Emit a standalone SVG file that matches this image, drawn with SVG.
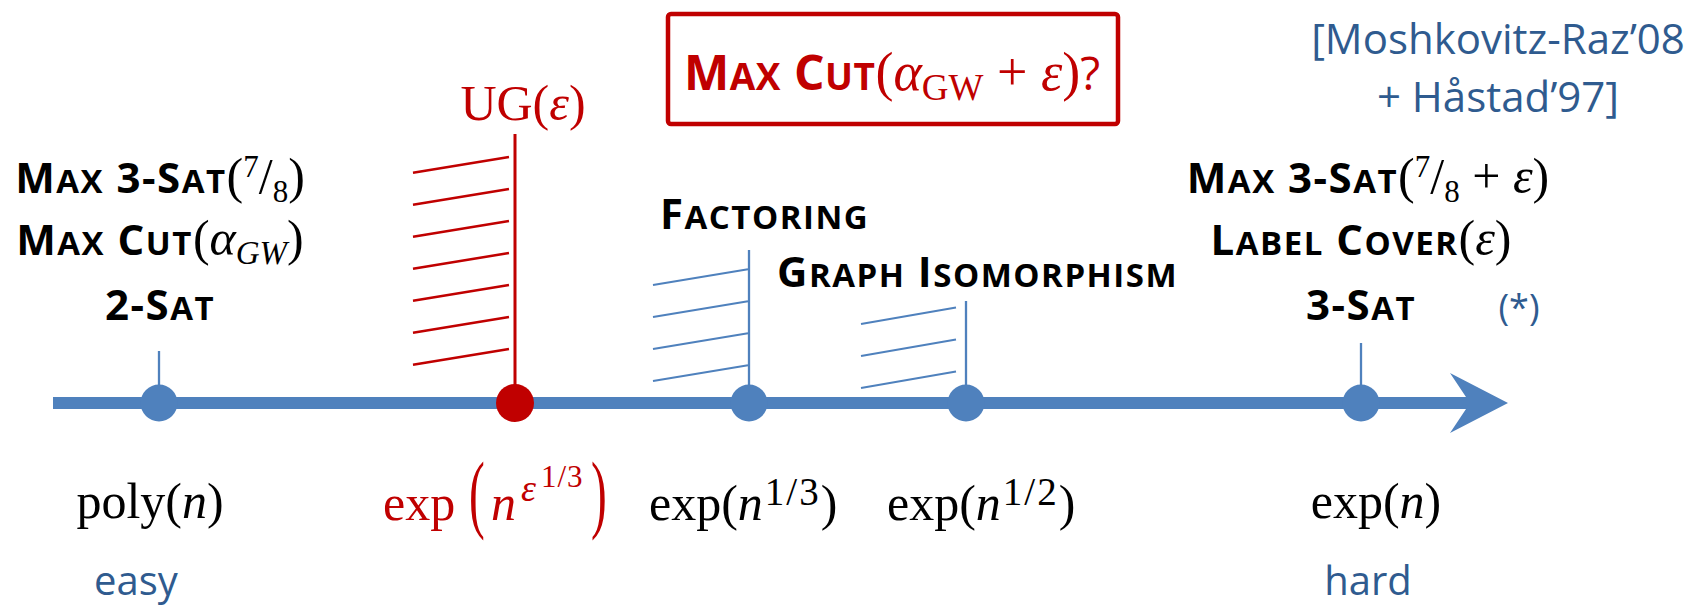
<svg xmlns="http://www.w3.org/2000/svg" width="1698" height="605" viewBox="0 0 1698 605">
<defs>
<style>
.sc{font-family:"Open Sans","Liberation Sans",sans-serif;font-weight:700;fill:#000;letter-spacing:1.5px}
.b{font-size:42px}
.s{font-size:33px}
.m{font-family:"Liberation Serif","DejaVu Serif",serif;font-weight:400;font-size:50px;letter-spacing:0}
.i{font-style:italic}
.sup{font-size:31px}
.sub{font-size:33px}
.tb{font-size:48px}
.ts{font-size:37px}
.tm{font-family:"Liberation Serif","DejaVu Serif",serif;font-weight:400;font-size:54px;letter-spacing:0}
.tsub{font-size:37px}
.blue{font-family:"Open Sans","Liberation Sans",sans-serif;fill:#2F5B8F;font-size:40px}
.math{font-family:"Liberation Serif","DejaVu Serif",serif;font-size:50px;fill:#000}
.ex{font-size:39px;letter-spacing:2px}
.red{fill:#C00000}
.tick{stroke:#4F81BD;stroke-width:2.3}
.hb{stroke:#4F81BD;stroke-width:2}
.hr{stroke:#C00000;stroke-width:2.5}
.dot{fill:#4F81BD}
</style>
</defs>
<rect width="1698" height="605" fill="#fff"/>

<g id="connectors">
  <line x1="53" y1="403" x2="1474" y2="403" stroke="#4F81BD" stroke-width="12"/>
  <polygon points="1508,403 1450,373 1470,403 1450,433" fill="#4F81BD"/>
</g>

<g id="node-easy">
  <line class="tick" x1="159" y1="351" x2="159" y2="403"/>
  <circle class="dot" cx="159" cy="403" r="18.5"/>
  <text class="sc" x="160" y="193" text-anchor="middle"><tspan class="b">M</tspan><tspan class="s">AX</tspan><tspan class="b"> 3-S</tspan><tspan class="s">AT</tspan><tspan class="m">(</tspan><tspan class="m sup" dy="-16">7</tspan><tspan class="m" dy="16">/</tspan><tspan class="m sup" dy="9">8</tspan><tspan class="m" dy="-9">)</tspan></text>
  <text class="sc" x="160" y="255" text-anchor="middle"><tspan class="b">M</tspan><tspan class="s">AX</tspan><tspan class="b"> C</tspan><tspan class="s">UT</tspan><tspan class="m">(</tspan><tspan class="m i">α</tspan><tspan class="m i sub" dy="9">GW</tspan><tspan class="m" dy="-9">)</tspan></text>
  <text class="sc" x="160" y="320" text-anchor="middle"><tspan class="b">2-S</tspan><tspan class="s">AT</tspan></text>
  <text class="math" x="150" y="518" text-anchor="middle">poly(<tspan class="i">n</tspan>)</text>
  <text class="blue" x="136" y="595" text-anchor="middle">easy</text>
</g>

<g id="node-ug">
  <line class="hr" x1="413" y1="172.7" x2="509" y2="157"/>
  <line class="hr" x1="413" y1="204.7" x2="509" y2="189"/>
  <line class="hr" x1="413" y1="236.7" x2="509" y2="221"/>
  <line class="hr" x1="413" y1="268.7" x2="509" y2="253"/>
  <line class="hr" x1="413" y1="300.7" x2="509" y2="285"/>
  <line class="hr" x1="413" y1="332.7" x2="509" y2="317"/>
  <line class="hr" x1="413" y1="364.7" x2="509" y2="349"/>
  <line x1="515" y1="134" x2="515" y2="403" stroke="#C00000" stroke-width="3"/>
  <circle cx="515" cy="403" r="19" fill="#C00000"/>
  <text class="math red" x="523" y="120" text-anchor="middle">UG(<tspan class="i">ε</tspan>)</text>
  <text class="math red" x="383" y="520">exp</text>
  <text class="math red" style="font-size:86px" transform="translate(469,522) scale(0.55,1)">(</text>
  <text class="math red i" x="491" y="520">n</text>
  <text class="math red i" x="521" y="501" style="font-size:38px">ε</text>
  <text class="math red" x="541" y="487" style="font-size:31px;letter-spacing:1px">1/3</text>
  <text class="math red" style="font-size:86px" transform="translate(591,522) scale(0.55,1)">)</text>
</g>

<g id="node-maxcut-question">
  <rect x="668" y="14" width="450" height="110" rx="3" fill="none" stroke="#C00000" stroke-width="4.5"/>
  <text class="sc red" x="892" y="90" text-anchor="middle" style="letter-spacing:0.5px"><tspan class="tb">M</tspan><tspan class="ts">AX</tspan><tspan class="tb"> C</tspan><tspan class="ts">UT</tspan><tspan class="tm">(</tspan><tspan class="tm i">α</tspan><tspan class="tm tsub" dy="10">GW</tspan><tspan class="tm" dy="-10"> + </tspan><tspan class="tm i">ε</tspan><tspan class="tm">)</tspan><tspan style="font-weight:400;font-size:46px;letter-spacing:0">?</tspan></text>
</g>

<g id="node-factoring">
  <line class="hb" x1="653" y1="285" x2="748" y2="269.3"/>
  <line class="hb" x1="653" y1="317" x2="748" y2="301.3"/>
  <line class="hb" x1="653" y1="349" x2="748" y2="333.3"/>
  <line class="hb" x1="653" y1="381" x2="748" y2="365.3"/>
  <line class="tick" x1="749" y1="250" x2="749" y2="403"/>
  <circle class="dot" cx="749" cy="403" r="18.5"/>
  <text class="sc" x="660" y="229"><tspan class="b">F</tspan><tspan class="s">ACTORING</tspan></text>
  <text class="math" x="649" y="520">exp(<tspan class="i">n</tspan><tspan class="ex" dx="2" dy="-15">1/3</tspan><tspan dy="15">)</tspan></text>
</g>

<g id="node-graph-iso">
  <line class="hb" x1="861" y1="324" x2="956" y2="307.5"/>
  <line class="hb" x1="861" y1="356" x2="956" y2="339.5"/>
  <line class="hb" x1="861" y1="388" x2="956" y2="371.5"/>
  <line class="tick" x1="966" y1="301" x2="966" y2="403"/>
  <circle class="dot" cx="966" cy="403" r="18.5"/>
  <text class="sc" x="777" y="287"><tspan class="b">G</tspan><tspan class="s">RAPH</tspan><tspan class="b"> I</tspan><tspan class="s">SOMORPHISM</tspan></text>
  <text class="math" x="887" y="520">exp(<tspan class="i">n</tspan><tspan class="ex" dx="2" dy="-15">1/2</tspan><tspan dy="15">)</tspan></text>
</g>

<g id="node-hard">
  <line class="tick" x1="1361" y1="343" x2="1361" y2="403"/>
  <circle class="dot" cx="1361" cy="403" r="18.5"/>
  <text class="sc" x="1368" y="193" text-anchor="middle"><tspan class="b">M</tspan><tspan class="s">AX</tspan><tspan class="b"> 3-S</tspan><tspan class="s">AT</tspan><tspan class="m">(</tspan><tspan class="m sup" dy="-16">7</tspan><tspan class="m" dy="16">/</tspan><tspan class="m sup" dy="9">8</tspan><tspan class="m" dy="-9"> + </tspan><tspan class="m i">ε</tspan><tspan class="m">)</tspan></text>
  <text class="sc" x="1361" y="255" text-anchor="middle"><tspan class="b">L</tspan><tspan class="s">ABEL</tspan><tspan class="b"> C</tspan><tspan class="s">OVER</tspan><tspan class="m">(</tspan><tspan class="m i">ε</tspan><tspan class="m">)</tspan></text>
  <text class="sc" x="1361" y="320" text-anchor="middle"><tspan class="b">3-S</tspan><tspan class="s">AT</tspan></text>
  <text class="blue" x="1519" y="320" text-anchor="middle" style="font-size:36px">(*)</text>
  <text class="math" x="1376" y="518" text-anchor="middle">exp(<tspan class="i">n</tspan>)</text>
  <text class="blue" x="1368" y="595" text-anchor="middle">hard</text>
</g>

<g id="citation">
  <text class="blue" x="1498" y="54" text-anchor="middle" style="font-size:42px">[Moshkovitz-Raz’08</text>
  <text class="blue" x="1498" y="112" text-anchor="middle" style="font-size:42px">+ Håstad’97]</text>
</g>
</svg>
